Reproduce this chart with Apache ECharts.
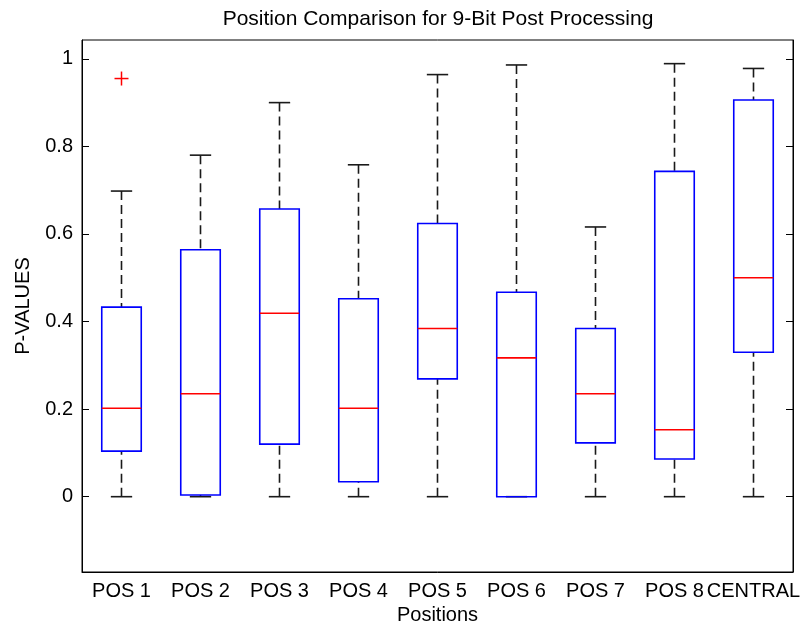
<!DOCTYPE html>
<html><head><meta charset="utf-8">
<script src="https://cdn.jsdelivr.net/npm/echarts@6/dist/echarts.min.js"></script>
<style>html,body{margin:0;padding:0;background:#fff}#c{width:801px;height:626px}</style>
</head><body><div id="c"></div>
<script>
const categories = ['POS 1','POS 2','POS 3','POS 4','POS 5','POS 6','POS 7','POS 8','CENTRAL'];
const whiskerLow  = [0, 0, 0, 0, 0, 0, 0, 0, 0];
const q1          = [0.104, 0.004, 0.120, 0.034, 0.269, 0.000, 0.123, 0.086, 0.330];
const median      = [0.202, 0.235, 0.419, 0.202, 0.384, 0.317, 0.235, 0.153, 0.500];
const q3          = [0.433, 0.564, 0.657, 0.452, 0.624, 0.467, 0.384, 0.743, 0.906];
const whiskerHigh = [0.698, 0.780, 0.900, 0.758, 0.964, 0.986, 0.616, 0.989, 0.978];
const outlierCategory = ['POS 1'];
const outlierValue    = [0.955];
const yTicks = [0, 0.2, 0.4, 0.6, 0.8, 1];
const yTickLabels = ['0', '0.2', '0.4', '0.6', '0.8', '1'];

const FONT = '"Liberation Sans", Arial, Helvetica, sans-serif';
const boxData = categories.map((c, i) => [i, whiskerLow[i], q1[i], median[i], q3[i], whiskerHigh[i]]);
const outData = outlierCategory.map((c, k) => [categories.indexOf(c), outlierValue[k]]);

const chart = echarts.init(document.getElementById('c'), null, {renderer: 'canvas'});
const yMin = -0.172, yMax = 1.043;
const tickFmt = v => { const k = yTicks.findIndex(t => Math.abs(t - v) < 1e-9); return k >= 0 ? yTickLabels[k] : ''; };

chart.setOption({
  animation: false,
  backgroundColor: '#fff',
  title: {
    text: 'Position Comparison for 9-Bit Post Processing',
    left: 433, textAlign: 'center', top: 4,
    textStyle: {fontFamily: FONT, fontSize: 21, fontWeight: 'normal', color: '#000'}
  },
  grid: {left: 82, top: 40, right: 8, bottom: 54, containLabel: false, outerBoundsMode: 'none',
         show: true, borderColor: '#000', borderWidth: 1, backgroundColor: '#fff'},
  xAxis: {
    type: 'category', data: categories, boundaryGap: true,
    name: 'Positions', nameLocation: 'middle', nameGap: 31,
    nameTextStyle: {fontFamily: FONT, fontSize: 20, color: '#000'},
    axisLine: {show: true, onZero: false, lineStyle: {color: '#000', width: 1}},
    axisTick: {show: false},
    axisLabel: {interval: 0, hideOverlap: false, fontFamily: FONT, fontSize: 20, color: '#000', margin: 9},
    splitLine: {show: false}
  },
  yAxis: [{
    type: 'value', min: yMin, max: yMax, position: 'left',
    name: 'P-VALUES', nameLocation: 'middle', nameGap: 49, nameRotate: 90,
    nameTextStyle: {fontFamily: FONT, fontSize: 20, color: '#000'},
    axisLine: {show: true, onZero: false, lineStyle: {color: '#000', width: 1}},
    axisTick: {show: true, inside: true, length: 7, customValues: yTicks, lineStyle: {color: '#000'}},
    axisLabel: {customValues: yTicks, formatter: tickFmt, fontFamily: FONT, fontSize: 20, color: '#000', margin: 9},
    splitLine: {show: false}
  }, {
    type: 'value', min: yMin, max: yMax, position: 'right',
    axisLine: {show: true, onZero: false, lineStyle: {color: '#000', width: 1}},
    axisTick: {show: true, inside: true, length: 7, customValues: yTicks, lineStyle: {color: '#000'}},
    axisLabel: {show: false},
    splitLine: {show: false}
  }],
  series: [{
    type: 'custom',
    data: boxData,
    encode: {x: 0, y: [1, 2, 3, 4, 5]},
    renderItem: function (params, api) {
      const i = api.value(0);
      const pLo = api.coord([i, api.value(1)]);
      const pQ1 = api.coord([i, api.value(2)]);
      const pMd = api.coord([i, api.value(3)]);
      const pQ3 = api.coord([i, api.value(4)]);
      const pHi = api.coord([i, api.value(5)]);
      const band = api.size([1, 0])[0];
      const bw = band * 0.5, cw = band * 0.27;
      const x = pMd[0];
      const wStyle = {stroke: '#1a1a1a', lineWidth: 1.6, lineDash: [9, 5]};
      const cStyle = {stroke: '#1a1a1a', lineWidth: 1.6};
      const ch = [];
      if (pHi[1] < pQ3[1]) ch.push({type: 'line', shape: {x1: x, y1: pHi[1], x2: x, y2: pQ3[1]}, style: wStyle});
      if (pLo[1] > pQ1[1]) ch.push({type: 'line', shape: {x1: x, y1: pLo[1], x2: x, y2: pQ1[1]}, style: wStyle});
      ch.push({type: 'line', shape: {x1: x - cw / 2, y1: pHi[1], x2: x + cw / 2, y2: pHi[1]}, style: cStyle});
      ch.push({type: 'line', shape: {x1: x - cw / 2, y1: pLo[1], x2: x + cw / 2, y2: pLo[1]}, style: cStyle});
      ch.push({type: 'rect', shape: {x: x - bw / 2, y: pQ3[1], width: bw, height: pQ1[1] - pQ3[1]}, style: {fill: 'none', stroke: '#0000ff', lineWidth: 1.6}});
      ch.push({type: 'line', shape: {x1: x - bw / 2, y1: pMd[1], x2: x + bw / 2, y2: pMd[1]}, style: {stroke: '#ff0000', lineWidth: 1.6}});
      return {type: 'group', children: ch};
    },
    z: 2
  }, {
    type: 'custom',
    data: outData,
    encode: {x: 0, y: 1},
    renderItem: function (params, api) {
      const p = api.coord([api.value(0), api.value(1)]);
      const h = 7;
      const st = {stroke: '#ff0000', lineWidth: 1.5};
      return {type: 'group', children: [
        {type: 'line', shape: {x1: p[0] - h, y1: p[1], x2: p[0] + h, y2: p[1]}, style: st},
        {type: 'line', shape: {x1: p[0], y1: p[1] - h, x2: p[0], y2: p[1] + h}, style: st}
      ]};
    },
    z: 3
  }]
});
</script>
</body></html>
